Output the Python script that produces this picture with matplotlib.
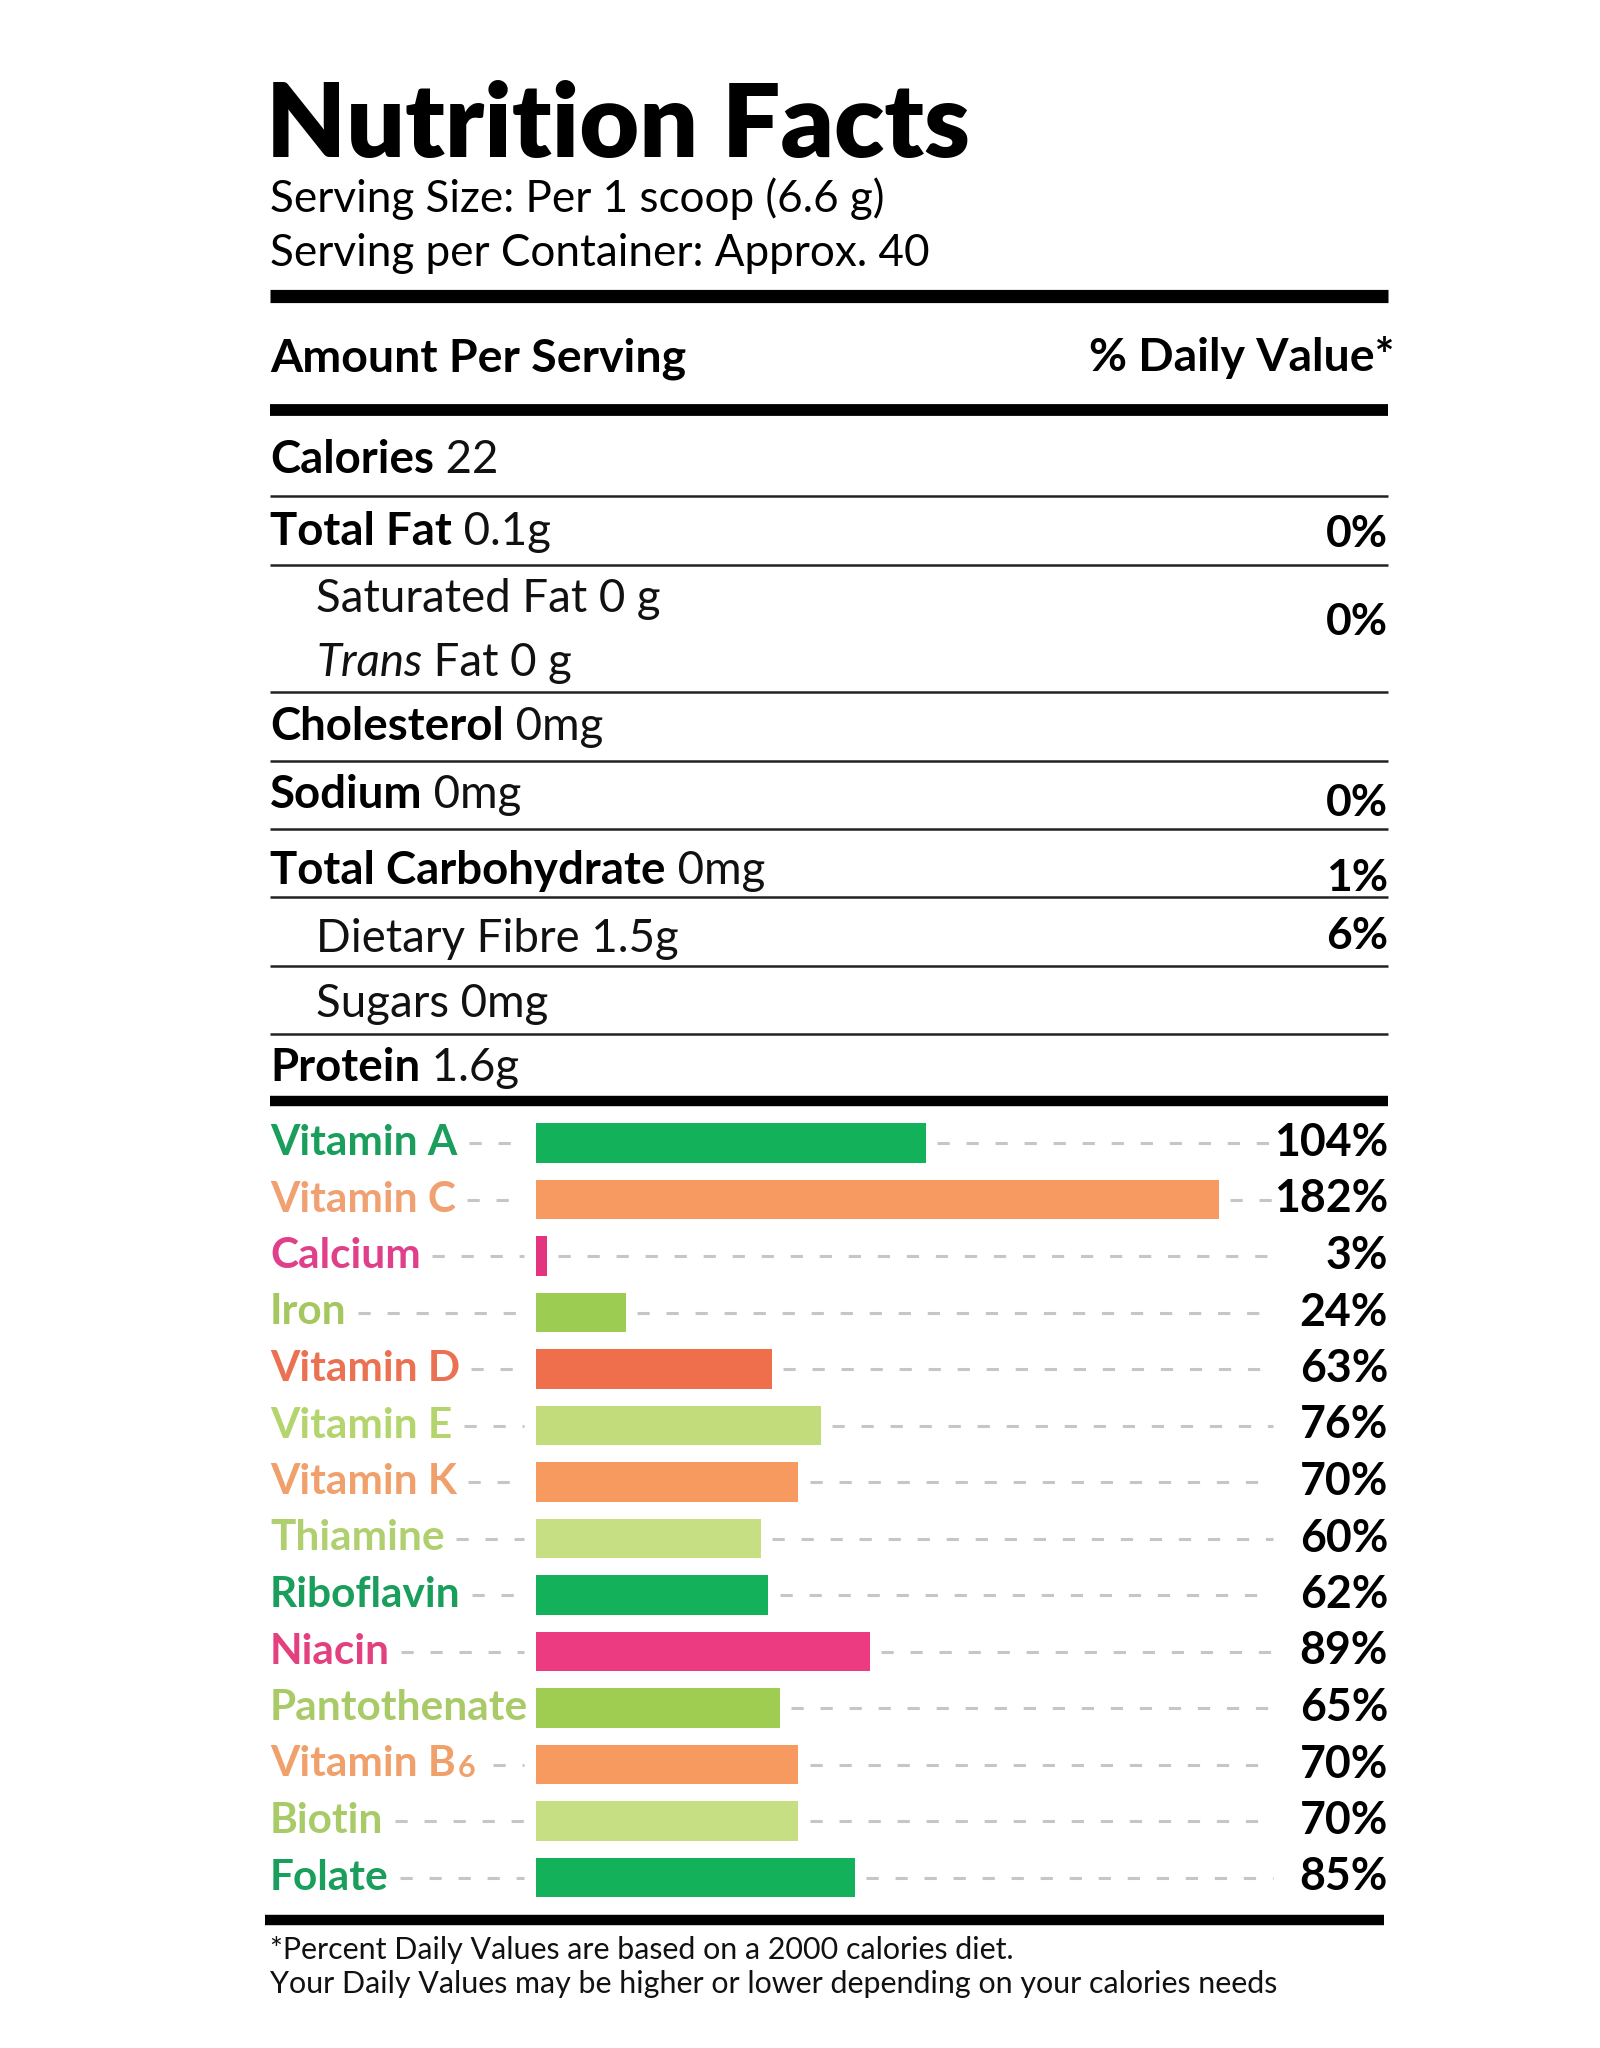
import matplotlib
matplotlib.use("Agg")
import matplotlib.pyplot as plt

# ---------------- data ----------------
title = "Nutrition Facts"
serving_size = "Serving Size: Per 1 scoop (6.6 g)"
serving_container = "Serving per Container: Approx. 40"
header_left = "Amount Per Serving"
header_right = "% Daily Value*"

nutrient_names = ["Calories", "Total Fat", "Saturated Fat", "Trans Fat", "Cholesterol",
                  "Sodium", "Total Carbohydrate", "Dietary Fibre", "Sugars", "Protein"]
nutrient_amounts = ["22", "0.1g", "0 g", "0 g", "0mg", "0mg", "0mg", "1.5g", "0mg", "1.6g"]
nutrient_sub = [False, False, True, True, False, False, False, True, True, False]
nutrient_dv = ["", "0%", "0%", "", "", "0%", "1%", "6%", "", ""]

vitamins = ["Vitamin A", "Vitamin C", "Calcium", "Iron", "Vitamin D", "Vitamin E", "Vitamin K",
            "Thiamine", "Riboflavin", "Niacin", "Pantothenate", "Vitamin B", "Biotin", "Folate"]
vitamin_dv = [104, 182, 3, 24, 63, 76, 70, 60, 62, 89, 65, 70, 70, 85]
bar_colors = ["#13b25a", "#f69a62", "#e2347f", "#9ccc52", "#ef6f4d", "#c2dc7c", "#f69a5f",
              "#c5df82", "#13b25a", "#ec3b80", "#9fcd52", "#f69a5f", "#c5df82", "#13b25a"]
label_colors = ["#1a9e5b", "#f0a071", "#e0408a", "#a4c760", "#ea7252", "#b4d56e", "#f0a06a",
                "#b0d070", "#1a9e5b", "#e3407f", "#a8cb68", "#f0a06a", "#a8cb68", "#1a9e5b"]

footnotes = ["*Percent Daily Values are based on a 2000 calories diet.",
             "Your Daily Values may be higher or lower depending on your calories needs"]

FONT = ["Lato", "DejaVu Sans"]

# ---------------- figure ----------------
W, H, DPI = 1600, 2048, 100
fig = plt.figure(figsize=(W / DPI, H / DPI), dpi=DPI, facecolor="white")
ax = fig.add_axes([0, 0, 1, 1])
ax.set_xlim(0, W)
ax.set_ylim(H, 0)
ax.axis("off")
fig.canvas.draw()
renderer = fig.canvas.get_renderer()


def size_for(text, width_px, weight="normal", style="normal", base=40.0):
    t = ax.text(0, 0, text, fontsize=base, fontweight=weight, style=style, family=FONT)
    bb = t.get_window_extent(renderer)
    t.remove()
    return base * width_px / bb.width


LEFT, RIGHT = 270, 1388
SUB = 316

# title block
fs_title = size_for(title, 703, "heavy")
ax.text(LEFT - 4, 157, title, fontsize=fs_title, fontweight="heavy", family=FONT, va="baseline")
fs_serv = size_for(serving_container, 657)
ax.text(LEFT, 212, serving_size, fontsize=fs_serv, family=FONT, va="baseline")
ax.text(LEFT, 266, serving_container, fontsize=fs_serv, family=FONT, va="baseline")

ax.plot([LEFT, RIGHT], [296, 296], color="black", lw=9.5, solid_capstyle="butt")
fs_head = size_for(header_left, 416, "bold")
ax.text(LEFT, 371, header_left, fontsize=fs_head, fontweight="bold", family=FONT, va="baseline")
ax.text(RIGHT + 6, 371, header_right, fontsize=fs_head, fontweight="bold", family=FONT,
        va="baseline", ha="right")
ax.plot([LEFT, RIGHT], [410, 410], color="black", lw=8.5, solid_capstyle="butt")

# nutrient rows
row_base = [473, 545, 612, 676, 740, 808, 884, 952, 1017, 1081]
dv_base = [473, 547, 635, 635, 740, 816, 891, 949, 1017, 1081]
thin_lines = [496, 565, 692, 761, 829, 897, 966, 1034]
fs_row = size_for("Total Carbohydrate", 396, "bold")
for name, amt, sub, dv, yb, yd in zip(nutrient_names, nutrient_amounts, nutrient_sub,
                                      nutrient_dv, row_base, dv_base):
    if sub:
        if name.startswith("Trans"):
            t = ax.text(SUB, yb, "Trans", fontsize=fs_row, style="italic", family=FONT,
                        va="baseline", color="#111111")
            ax.annotate(" Fat " + amt, xy=(1, 0), xycoords=t, va="bottom", ha="left",
                        fontsize=fs_row, family=FONT, color="#111111",
                        annotation_clip=False)
        else:
            ax.text(SUB, yb, name + " " + amt, fontsize=fs_row, family=FONT,
                    va="baseline", color="#111111")
    else:
        t = ax.text(LEFT, yb, name, fontsize=fs_row, fontweight="bold", family=FONT,
                    va="baseline")
        ax.annotate(" " + amt, xy=(1, 0), xycoords=t, va="bottom", ha="left",
                    fontsize=fs_row, family=FONT, color="#111111")
    if dv and not name.startswith("Trans"):
        ax.text(RIGHT, yd, dv, fontsize=fs_row * 0.97, fontweight="bold", family=FONT,
                va="baseline", ha="right")
for y in thin_lines:
    ax.plot([LEFT, RIGHT], [y, y], color="#222222", lw=1.8, solid_capstyle="butt")
ax.plot([LEFT, RIGHT], [1101, 1101], color="black", lw=7.5, solid_capstyle="butt")

# ---------------- vitamin bars ----------------
x0_px, px_per_pct = 535.5, 3.754
top_px, row_h = 1143 - 28.25, 56.5
n = len(vitamins)
axb = fig.add_axes([LEFT / W, 1 - (top_px + n * row_h) / H, (RIGHT - LEFT) / W, n * row_h / H])
axb.set_xlim(-(x0_px - LEFT) / px_per_pct, (RIGHT - x0_px) / px_per_pct)
axb.set_ylim(n - 0.5, -0.5)
axb.axis("off")
xmin = axb.get_xlim()[0]
xmax_dash = (1273 - x0_px) / px_per_pct

ypos = list(range(n))
axb.barh(ypos, vitamin_dv, height=0.7, color=bar_colors, zorder=3)

fs_vit = size_for("Pantothenate", 258, "bold")
fs_pct = size_for("104%", 114, "bold")
fig.canvas.draw()
inv = axb.transData.inverted()
gap = 3.0
for i, (name, v, lc) in enumerate(zip(vitamins, vitamin_dv, label_colors)):
    t = axb.text(xmin, i, name, fontsize=fs_vit, fontweight="bold", family=FONT,
                 color=lc, va="center", ha="left")
    if name == "Vitamin B":
        axb.annotate("6", xy=(1.01, 0.05), xycoords=t, fontsize=fs_vit * 0.72,
                     fontweight="bold", family=FONT, color=lc, va="bottom", ha="left")
    axb.text(axb.get_xlim()[1], i, f"{v}%", fontsize=fs_pct, fontweight="bold",
             family=FONT, color="black", va="center", ha="right")
    bb = t.get_window_extent(renderer)
    xend = inv.transform((bb.x1, 0))[0]
    if name == "Vitamin B":
        xend += 7
    if xend + gap < -gap:
        axb.plot([xend + gap, -gap], [i, i], color="#c6c6c6", lw=2.2,
                 dashes=(4, 5.5), zorder=1)
    axb.plot([v + gap, xmax_dash], [i, i], color="#c6c6c6", lw=2.2,
             dashes=(4, 5.5), zorder=1)

# bottom rule and footnotes
ax.plot([265, 1384], [1920, 1920], color="black", lw=7.5, solid_capstyle="butt")
fs_foot = size_for(footnotes[1], 1006)
ax.text(LEFT, 1959, footnotes[0], fontsize=fs_foot, family=FONT, va="baseline", color="#111111")
ax.text(LEFT, 1993, footnotes[1], fontsize=fs_foot, family=FONT, va="baseline", color="#111111")

fig.savefig("out.png", dpi=DPI, facecolor="white")
